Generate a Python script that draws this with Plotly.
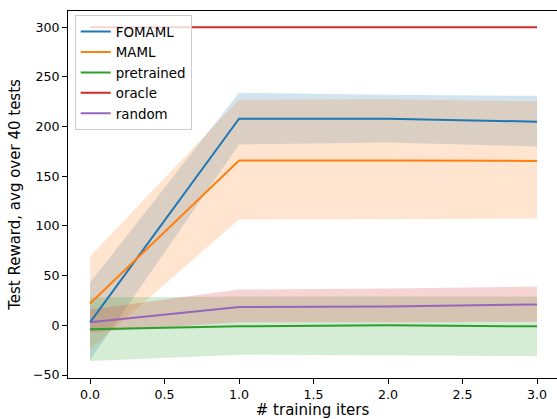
import plotly.graph_objects as go

iters = [0, 1, 2, 3]
names = ["FOMAML", "MAML", "pretrained", "oracle", "random"]
line_colors = ["#1f77b4", "#ff7f0e", "#2ca02c", "#d62728", "#9467bd"]

fomaml_mean = [3, 208, 208, 205]
fomaml_low = [-35, 182, 184, 180]
fomaml_high = [43, 234, 232, 231]

maml_mean = [22, 166, 166, 165.5]
maml_low = [-24, 106.5, 107, 107.5]
maml_high = [69.5, 227, 227.5, 225.5]

pre_mean = [-4, -1, 0, -1]
pre_low = [-36, -29.5, -30, -31]
pre_high = [28, 29, 29, 29]

oracle_mean = [300, 300, 300, 300]

rand_mean = [3, 18.5, 19, 21]
rand_low = [-7, 3, 3, 3.5]
rand_high = [16, 36, 37, 39]

fill_colors = ["rgba(31,119,180,0.2)", "rgba(255,127,14,0.2)",
               "rgba(44,160,44,0.2)", "rgba(214,39,40,0.2)"]
bands = [(fomaml_low, fomaml_high), (maml_low, maml_high),
         (pre_low, pre_high), (rand_low, rand_high)]
means = [fomaml_mean, maml_mean, pre_mean, oracle_mean, rand_mean]

fig = go.Figure()
for (lo, hi), fc in zip(bands, fill_colors):
    fig.add_trace(go.Scatter(x=iters, y=lo, mode="lines", line=dict(width=0),
                             showlegend=False, hoverinfo="skip"))
    fig.add_trace(go.Scatter(x=iters, y=hi, mode="lines", line=dict(width=0),
                             fill="tonexty", fillcolor=fc,
                             showlegend=False, hoverinfo="skip"))

for name, m, c in zip(names, means, line_colors):
    fig.add_trace(go.Scatter(x=iters, y=m, mode="lines", name=name,
                             line=dict(color=c, width=2)))

font = dict(family="DejaVu Sans", size=12.6, color="black")
legend_font = dict(family="DejaVu Sans", size=13.4, color="black")
fig.update_layout(
    width=557, height=419,
    margin=dict(l=68, r=0, t=11, b=41),
    paper_bgcolor="white", plot_bgcolor="white",
    font=font,
    showlegend=True,
    legend=dict(x=0.0137, y=0.988, xanchor="left", yanchor="top",
                bgcolor="rgba(255,255,255,0.8)", bordercolor="#cccccc",
                borderwidth=1, font=legend_font, itemwidth=30,
                traceorder="normal", tracegroupgap=0),
    xaxis=dict(range=[-0.148, 3.134], tickvals=[0, 0.5, 1, 1.5, 2, 2.5, 3],
               ticktext=["0.0", "0.5", "1.0", "1.5", "2.0", "2.5", "3.0"],
               showgrid=False, zeroline=False, showline=True, linecolor="black",
               linewidth=1, mirror=True, ticks="outside", ticklen=5,
               tickcolor="black", automargin=False,
               title=dict(text="# training iters", standoff=2)),
    yaxis=dict(range=[-53, 316.4], tickvals=[-50, 0, 50, 100, 150, 200, 250, 300],
               showgrid=False, zeroline=False, showline=True, linecolor="black",
               linewidth=1, ticks="outside", ticklen=5, tickcolor="black",
               automargin=False,
               title=dict(text="Test Reward, avg over 40 tests", standoff=8)),
)
fig.write_html("out.html", config={"displayModeBar": False},
               post_script="document.body.style.margin='0';document.body.style.overflow='hidden';")
